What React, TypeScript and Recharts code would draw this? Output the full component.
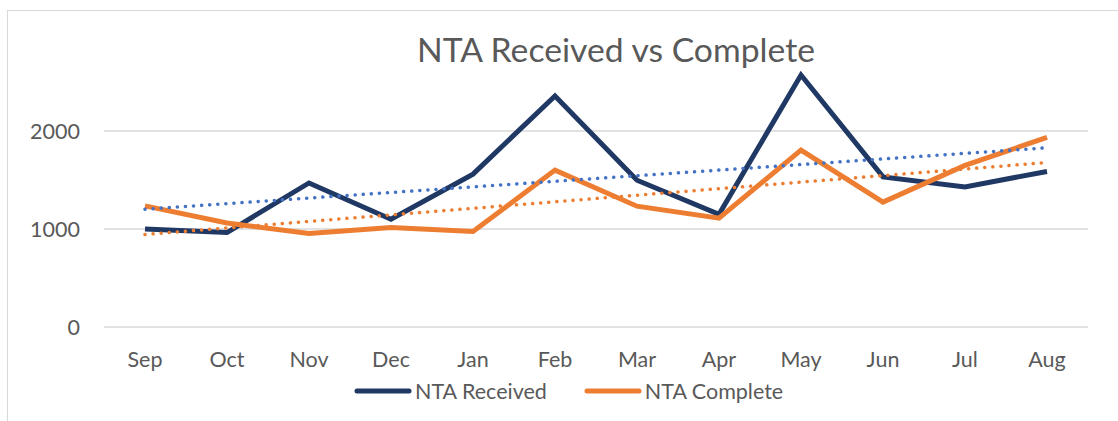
import { LineChart, Line, XAxis, YAxis, CartesianGrid, ReferenceLine } from 'recharts'

const months = ['Sep', 'Oct', 'Nov', 'Dec', 'Jan', 'Feb', 'Mar', 'Apr', 'May', 'Jun', 'Jul', 'Aug']
const received = [1000, 964, 1470, 1100, 1560, 2357, 1498, 1150, 2571, 1532, 1430, 1587]
const complete = [1236, 1062, 954, 1015, 974, 1601, 1233, 1110, 1805, 1274, 1649, 1935]
const yTicks = [0, 1000, 2000]

// linear trendline endpoints
const receivedTrend = [1202, 1829]
const completeTrend = [944, 1679]

const C = {
  received: '#203864',
  complete: '#ED7D31',
  recTrend: '#4472C4',
  grid:     '#D9D9D9',
  text:     '#595959',
}

const FONT = 'Lato, "Open Sans", sans-serif'

const data = months.map((m, i) => ({
  month: m,
  'NTA Received': received[i],
  'NTA Complete': complete[i],
}))

function ChartLegend() {
  const items = [
    { name: 'NTA Received', color: C.received },
    { name: 'NTA Complete', color: C.complete },
  ]
  return (
    <div style={{
      position: 'absolute', left: 354, top: 378, display: 'flex', gap: 37,
      fontFamily: FONT, fontSize: 21.5, color: C.text, lineHeight: '26px',
    }}>
      {items.map((it) => (
        <div key={it.name} style={{ display: 'flex', alignItems: 'center' }}>
          <svg width={58} height={10} style={{ marginRight: 3 }}>
            <line x1={3} y1={5} x2={55} y2={5} stroke={it.color} strokeWidth={5} strokeLinecap="round" />
          </svg>
          <span>{it.name}</span>
        </div>
      ))}
    </div>
  )
}

export default function App() {
  const tick = { fill: C.text, fontSize: 21.5, fontFamily: FONT }
  return (
    <div style={{ position: 'absolute', left: 0, top: 0, width: 1118, height: 421, background: '#FFFFFF', overflow: 'hidden' }}>
      <div style={{ position: 'absolute', left: 7, top: 10, width: 1300, height: 600, border: `1px solid ${C.grid}` }} />
      <div style={{
        position: 'absolute', left: 0, top: 29, width: 1232, textAlign: 'center',
        fontFamily: FONT, fontSize: 33.7, color: C.text, whiteSpace: 'nowrap',
      }}>
        NTA Received vs Complete
      </div>
      <div style={{ position: 'absolute', left: 0, top: 0 }}>
        <LineChart width={1118} height={421} data={data} margin={{ top: 33, right: 30, bottom: 0, left: 0 }}>
          <CartesianGrid vertical={false} horizontalValues={yTicks} stroke={C.grid} strokeWidth={1.5} />
          <XAxis
            dataKey="month"
            axisLine={false}
            tickLine={false}
            tick={tick}
            tickMargin={19}
            height={94}
            interval={0}
            padding={{ left: 41, right: 41 }}
          />
          <YAxis
            domain={[0, 3000]}
            ticks={yTicks}
            axisLine={false}
            tickLine={false}
            tick={tick}
            tickMargin={18}
            width={104}
          />
          <Line
            type="linear"
            dataKey="NTA Received"
            stroke={C.received}
            strokeWidth={5}
            dot={false}
            isAnimationActive={false}
          />
          <Line
            type="linear"
            dataKey="NTA Complete"
            stroke={C.complete}
            strokeWidth={5}
            dot={false}
            isAnimationActive={false}
          />
          <ReferenceLine
            segment={[{ x: months[0], y: receivedTrend[0] }, { x: months[months.length - 1], y: receivedTrend[1] }]}
            stroke={C.recTrend}
            strokeWidth={3.5}
            strokeDasharray="0.1 8"
            strokeLinecap="round"
          />
          <ReferenceLine
            segment={[{ x: months[0], y: completeTrend[0] }, { x: months[months.length - 1], y: completeTrend[1] }]}
            stroke={C.complete}
            strokeWidth={3.5}
            strokeDasharray="0.1 8"
            strokeLinecap="round"
          />
        </LineChart>
      </div>
      <ChartLegend />
    </div>
  )
}
